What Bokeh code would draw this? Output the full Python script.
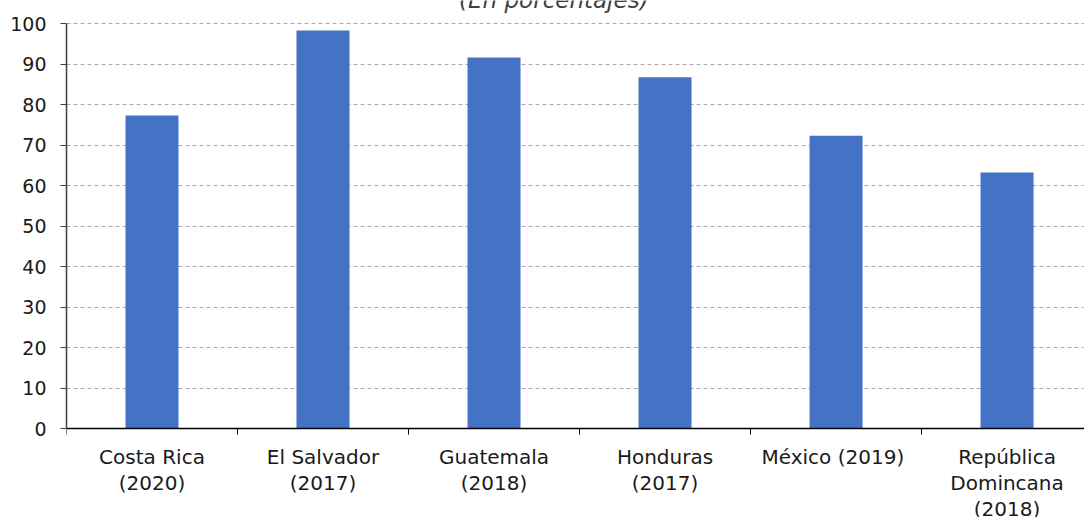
from bokeh.plotting import figure
from bokeh.models import FixedTicker, Range1d, ColumnDataSource
from bokeh.core.properties import value
from bokeh.embed import file_html
from bokeh.resources import INLINE

# Share of the population (percent) by country and survey year
countries = ["Costa Rica\n(2020)", "El Salvador\n(2017)", "Guatemala\n(2018)",
             "Honduras\n(2017)", "México  (2019)", "República\nDomincana\n(2018)"]
values = [77.3, 98.3, 91.6, 86.7, 72.3, 63.2]
y_ticks = [0, 10, 20, 30, 40, 50, 60, 70, 80, 90, 100]
subtitle = "(En porcentajes)"

FONT = "DejaVu Sans"
BLUE = "#4472C4"
TEXT = "#1a1a1a"

W, H = 1084, 517
PX = 4.05                     # pixels per percentage point
TOP_PAD = 23                  # room above the 100 line for the subtitle
Y_END = 100 + TOP_PAD / PX
Y_START = Y_END - H / PX

centers = [i + 0.5 for i in range(len(countries))]
boundaries = list(range(len(countries) + 1))

p = figure(width=W, height=H, output_backend="svg", toolbar_location=None,
           x_range=Range1d(0, 5.953), y_range=Range1d(Y_START, Y_END),
           min_border_left=66, min_border_right=0, min_border_top=0,
           min_border_bottom=0)
p.outline_line_color = None

p.vbar(x=centers, top=values, width=0.31, fill_color=BLUE, line_color=None)

# x axis drawn on the zero line, ticks at category boundaries
xa = p.xaxis[0]
xa.fixed_location = 0
xa.ticker = FixedTicker(ticks=boundaries, minor_ticks=[])
xa.major_label_overrides = {b: "" for b in boundaries}
xa.major_label_standoff = 0
xa.major_tick_in = 0
xa.major_tick_out = 6
xa.major_tick_line_color = "#000000"
xa.axis_line_color = "#000000"
xa.axis_line_width = 1.5

# category names, one row per line, centred under each bar
lx, ly, lt = [], [], []
for cx, name in zip(centers, countries):
    for k, line in enumerate(name.split("\n")):
        lx.append(cx)
        ly.append(-(28 + 26 * k) / PX)
        lt.append(line)
p.text(x="x", y="y", text="t", source=ColumnDataSource(dict(x=lx, y=ly, t=lt)),
       text_align="center", text_baseline="middle", text_font=value(FONT),
       text_font_size="20px", text_color=TEXT)

ya = p.yaxis[0]
ya.bounds = (0, 100)
ya.ticker = FixedTicker(ticks=y_ticks)
ya.minor_tick_line_color = None
ya.major_tick_in = 0
ya.major_tick_out = 6
ya.axis_line_color = "#404040"
ya.axis_line_width = 1.5
ya.major_tick_line_color = "#404040"
ya.major_label_standoff = 14
ya.major_label_text_font = FONT
ya.major_label_text_font_size = "19px"
ya.major_label_text_color = TEXT

p.xgrid.grid_line_color = None
p.ygrid.ticker = FixedTicker(ticks=y_ticks)
p.ygrid.grid_line_color = "#ABABAB"
p.ygrid.grid_line_dash = "4 3"
p.ygrid.grid_line_width = 1

# subtitle just above the 100 line, partly running off the top edge
p.text(x=[2.85], y=[100 + 24 / PX], text=[subtitle], text_align="center",
       text_baseline="alphabetic", text_font=value(FONT),
       text_font_style="italic", text_font_size="23px", text_color="#404040")

open("out.html", "w").write(file_html(p, INLINE))
